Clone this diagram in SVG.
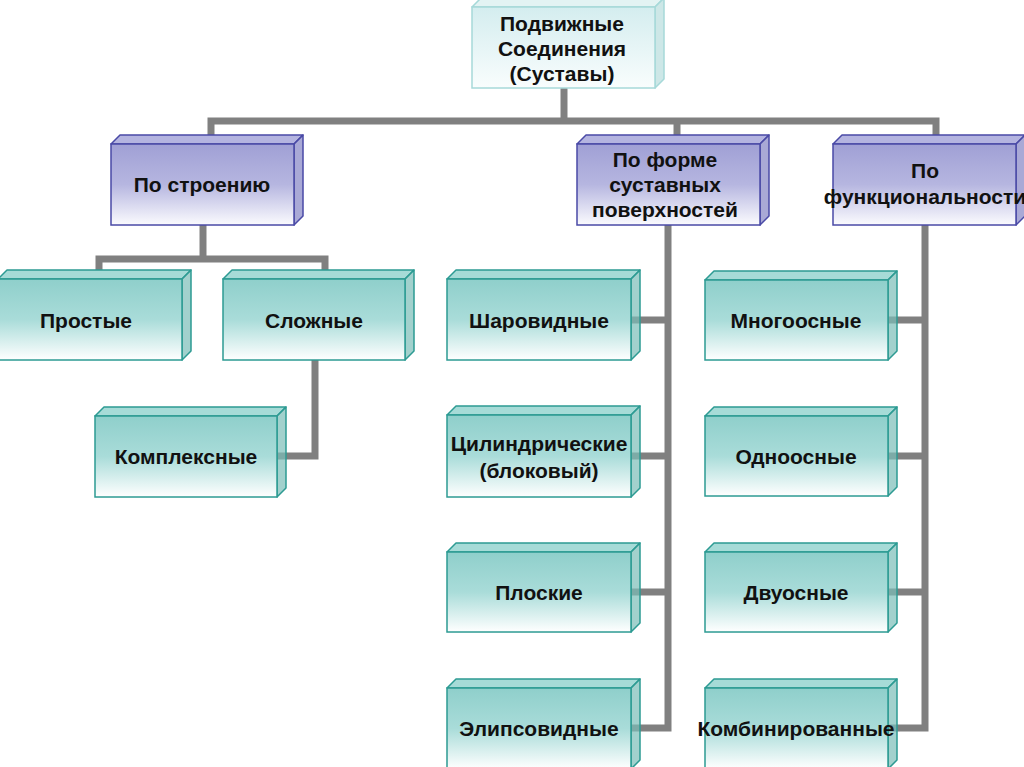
<svg xmlns="http://www.w3.org/2000/svg" width="1024" height="767" viewBox="0 0 1024 767">
<defs>
<linearGradient id="gTeal" x1="0" y1="0" x2="0" y2="1">
<stop offset="0" stop-color="#8fcfcb"/><stop offset="0.5" stop-color="#a9dcd9"/><stop offset="1" stop-color="#ffffff"/>
</linearGradient>
<linearGradient id="gPurple" x1="0" y1="0" x2="0" y2="1">
<stop offset="0" stop-color="#a0a0d5"/><stop offset="0.5" stop-color="#b6b6e0"/><stop offset="1" stop-color="#fbfbfe"/>
</linearGradient>
<linearGradient id="gRoot" x1="0" y1="0" x2="0" y2="1">
<stop offset="0" stop-color="#d4edef"/><stop offset="1" stop-color="#f9fdfd"/>
</linearGradient>
<style>
.t{font-family:"Liberation Sans",Arial,sans-serif;font-weight:bold;font-size:21px;fill:#111;text-anchor:middle}
.c{fill:none;stroke:#808080;stroke-width:7}
.tf{fill:url(#gTeal);stroke:#2d9b93;stroke-width:1.5}
.tt{fill:#a6dbd7;stroke:#2d9b93;stroke-width:1.5;stroke-linejoin:round}
.ts{fill:#7abdb8;fill-opacity:0.7;stroke:#2d9b93;stroke-width:1.5;stroke-linejoin:round}
.pf{fill:url(#gPurple);stroke:#4a4aa6;stroke-width:1.5}
.pt{fill:#b4b4e0;stroke:#4a4aa6;stroke-width:1.5;stroke-linejoin:round}
.ps{fill:#9494cc;fill-opacity:0.8;stroke:#4a4aa6;stroke-width:1.5;stroke-linejoin:round}
.rf{fill:url(#gRoot);stroke:#a6d9d9;stroke-width:1.5}
.rt{fill:#e3f3f3;stroke:#a6d9d9;stroke-width:1.5;stroke-linejoin:round}
.rs{fill:#cde7e7;stroke:#a6d9d9;stroke-width:1.5;stroke-linejoin:round}
</style>
</defs>
<rect width="1024" height="767" fill="#ffffff"/>
<g id="connectors">
<polyline class="c" points="564,88 564,121"/>
<polyline class="c" points="211,135 211,121 936,121 936,135"/>
<polyline class="c" points="677,121 677,135"/>
<polyline class="c" points="203,225 203,259"/>
<polyline class="c" points="99,271 99,259 325,259 325,271"/>
<polyline class="c" points="315,360 315,456 277,456"/>
<polyline class="c" points="668,225 668,728 631,728"/>
<polyline class="c" points="631,320 668,320"/>
<polyline class="c" points="631,456 668,456"/>
<polyline class="c" points="631,592 668,592"/>
<polyline class="c" points="925,225 925,728 887,728"/>
<polyline class="c" points="887,320 925,320"/>
<polyline class="c" points="887,456 925,456"/>
<polyline class="c" points="887,592 925,592"/>
</g>
<g id="root">
<polygon class="rt" points="472,7 481,-2 664,-2 655,7"/>
<polygon class="rs" points="655,7 664,-2 664,79 655,88"/>
<rect class="rf" x="472" y="7" width="183" height="81"/>
<text class="t" x="562" y="31">Подвижные</text>
<text class="t" x="562" y="56">Соединения</text>
<text class="t" x="562" y="81">(Суставы)</text>
</g>
<g id="po-stroeniyu">
<polygon class="pt" points="111,144 120,135 303,135 294,144"/>
<polygon class="ps" points="294,144 303,135 303,216 294,225"/>
<rect class="pf" x="111" y="144" width="183" height="81"/>
<text class="t" x="202" y="192">По строению</text>
</g>
<g id="po-forme">
<polygon class="pt" points="577,144 586,135 769,135 760,144"/>
<polygon class="ps" points="760,144 769,135 769,216 760,225"/>
<rect class="pf" x="577" y="144" width="183" height="81"/>
<text class="t" x="665" y="167">По форме</text>
<text class="t" x="665" y="192">суставных</text>
<text class="t" x="665" y="217">поверхностей</text>
</g>
<g id="po-funkc">
<polygon class="pt" points="833,144 842,135 1025,135 1016,144"/>
<polygon class="ps" points="1016,144 1025,135 1025,216 1016,225"/>
<rect class="pf" x="833" y="144" width="183" height="81"/>
<text class="t" x="925" y="178">По</text>
<text class="t" x="925" y="204">функциональности</text>
</g>
<g id="prostye">
<polygon class="tt" points="-2,279 7,270 191,270 182,279"/>
<polygon class="ts" points="182,279 191,270 191,351 182,360"/>
<rect class="tf" x="-2" y="279" width="184" height="81"/>
<text class="t" x="86" y="328">Простые</text>
</g>
<g id="slozhnye">
<polygon class="tt" points="223,279 232,270 414,270 405,279"/>
<polygon class="ts" points="405,279 414,270 414,351 405,360"/>
<rect class="tf" x="223" y="279" width="182" height="81"/>
<text class="t" x="314" y="328">Сложные</text>
</g>
<g id="kompleksnye">
<polygon class="tt" points="95,416 104,407 286,407 277,416"/>
<polygon class="ts" points="277,416 286,407 286,488 277,497"/>
<rect class="tf" x="95" y="416" width="182" height="81"/>
<text class="t" x="186" y="464">Комплексные</text>
</g>
<g id="sharovidnye">
<polygon class="tt" points="447,279 456,270 640,270 631,279"/>
<polygon class="ts" points="631,279 640,270 640,351 631,360"/>
<rect class="tf" x="447" y="279" width="184" height="81"/>
<text class="t" x="539" y="328">Шаровидные</text>
</g>
<g id="cilindricheskie">
<polygon class="tt" points="447,415 456,406 640,406 631,415"/>
<polygon class="ts" points="631,415 640,406 640,488 631,497"/>
<rect class="tf" x="447" y="415" width="184" height="82"/>
<text class="t" x="539" y="451">Цилиндрические</text>
<text class="t" x="539" y="478">(блоковый)</text>
</g>
<g id="ploskie">
<polygon class="tt" points="447,552 456,543 640,543 631,552"/>
<polygon class="ts" points="631,552 640,543 640,623 631,632"/>
<rect class="tf" x="447" y="552" width="184" height="80"/>
<text class="t" x="539" y="600">Плоские</text>
</g>
<g id="elipsovidnye">
<polygon class="tt" points="447,688 456,679 640,679 631,688"/>
<polygon class="ts" points="631,688 640,679 640,760 631,769"/>
<rect class="tf" x="447" y="688" width="184" height="81"/>
<text class="t" x="539" y="736">Элипсовидные</text>
</g>
<g id="mnogoosnye">
<polygon class="tt" points="705,280 714,271 897,271 888,280"/>
<polygon class="ts" points="888,280 897,271 897,351 888,360"/>
<rect class="tf" x="705" y="280" width="183" height="80"/>
<text class="t" x="796" y="328">Многоосные</text>
</g>
<g id="odnoosnye">
<polygon class="tt" points="705,416 714,407 897,407 888,416"/>
<polygon class="ts" points="888,416 897,407 897,487 888,496"/>
<rect class="tf" x="705" y="416" width="183" height="80"/>
<text class="t" x="796" y="464">Одноосные</text>
</g>
<g id="dvuosnye">
<polygon class="tt" points="705,552 714,543 897,543 888,552"/>
<polygon class="ts" points="888,552 897,543 897,623 888,632"/>
<rect class="tf" x="705" y="552" width="183" height="80"/>
<text class="t" x="796" y="600">Двуосные</text>
</g>
<g id="kombinirovannye">
<polygon class="tt" points="705,688 714,679 897,679 888,688"/>
<polygon class="ts" points="888,688 897,679 897,760 888,769"/>
<rect class="tf" x="705" y="688" width="183" height="81"/>
<text class="t" x="796" y="736">Комбинированные</text>
</g>
</svg>
